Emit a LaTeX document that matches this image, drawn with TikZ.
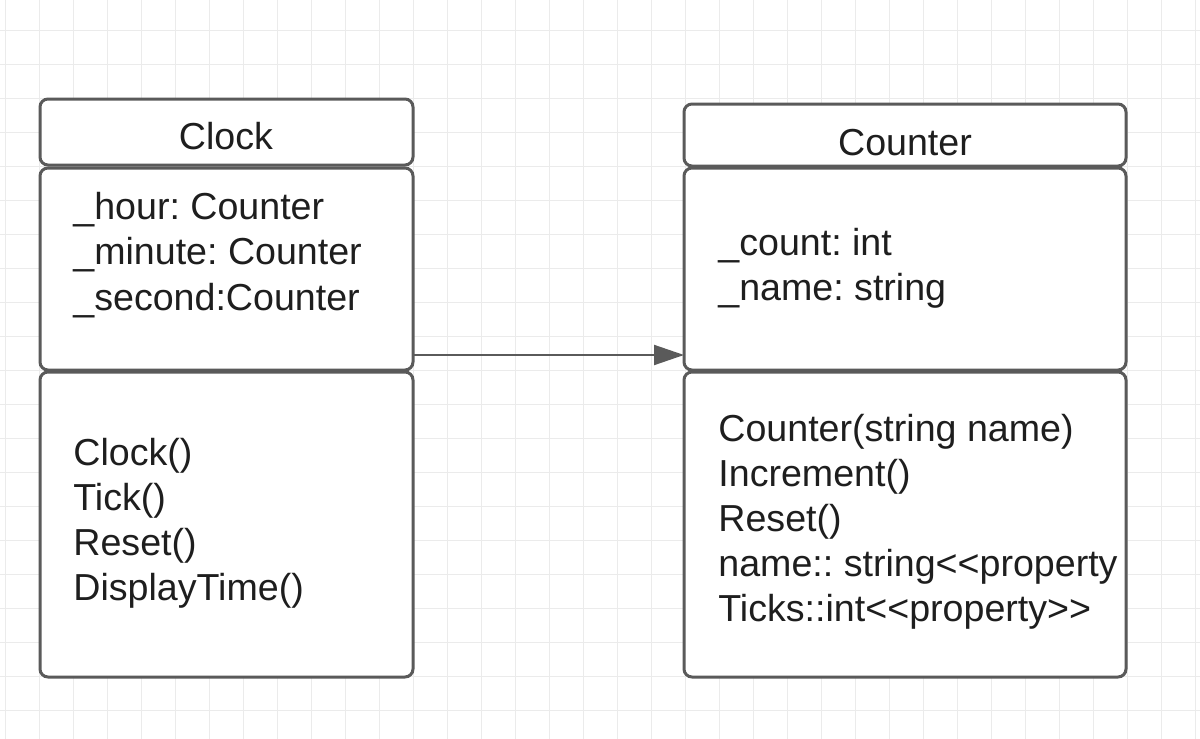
\documentclass[tikz,border=0pt]{standalone}
\usepackage{fontspec}
\setmainfont{Liberation Sans}
\usetikzlibrary{arrows.meta}

\definecolor{umlgray}{HTML}{5A5A5A}
\definecolor{gridgray}{HTML}{EBEBEB}
\definecolor{ink}{HTML}{1E1E1E}
\newcommand{\ltlt}{<\kern0pt<}
\newcommand{\gtgt}{>\kern0pt>}
\frenchspacing

\begin{document}
\begin{tikzpicture}[x=0.5pt, y=-0.5pt,
    gridline/.style={draw=gridgray, line width=0.5pt},
    compartment/.style={draw=umlgray, fill=white, line width=1.5pt, rounded corners=4pt,
        outer sep=0pt, inner sep=0pt, anchor=north west},
    title/.style={anchor=base, inner sep=0pt, text=ink, font=\fontsize{18.8}{22.75}\selectfont},
    member/.style={anchor=base west, inner sep=0pt, text=ink, font=\fontsize{18.8}{22.75}\selectfont},
    assoc/.style={draw=umlgray, line width=1pt, -{Triangle[length=15pt, width=10pt]}}]

    \useasboundingbox[fill=white] (0,0) rectangle (1200,739);

    % Background grid
    \foreach \gx in {5,39,...,1200}
        \draw[gridline] (\gx,0) -- (\gx,739);
    \foreach \gy in {30,64,...,739}
        \draw[gridline] (0,\gy) -- (1200,\gy);

    % Clock class
    \node[compartment, minimum width=186.5pt, minimum height=33pt] (clockhead) at (40,99) {};
    \node[compartment, minimum width=186.5pt, minimum height=101pt] (clockfields) at (40,168) {};
    \node[compartment, minimum width=186.5pt, minimum height=152.5pt] (clockops) at (40,372) {};
    \node[title] (clocktitle) at (226,149) {Clock};
    \foreach \txt [count=\i] in {\_hour: Counter, \_minute: Counter, \_second:Counter}
        \node[member] (clockfield-\i) at (73,{219+45.5*(\i-1)}) {\txt};
    \foreach \txt [count=\i] in {Clock(), Tick(), Reset(), DisplayTime()}
        \node[member] (clockop-\i) at (73,{465+45*(\i-1)}) {\txt};

    % Counter class
    \node[compartment, minimum width=221pt, minimum height=31pt] (counterhead) at (684,104) {};
    \node[compartment, minimum width=221pt, minimum height=101pt] (counterfields) at (684,168) {};
    \node[compartment, minimum width=221pt, minimum height=152.5pt] (counterops) at (684,372) {};
    \node[title] (countertitle) at (905,155) {Counter};
    \foreach \txt [count=\i] in {\_count: int, \_name: string}
        \node[member] (counterfield-\i) at (718,{255+45*(\i-1)}) {\txt};
    \foreach \txt [count=\i] in {Counter(string name), Increment(), Reset(),
            name:: string\ltlt property, Ticks::int\ltlt property\gtgt}
        \node[member] (counterop-\i) at (718,{441+45*(\i-1)}) {\txt};

    % Association
    \coordinate (linky) at (0,355);
    \draw[assoc] (clockfields.east |- linky) -- (counterfields.west |- linky);
\end{tikzpicture}
\end{document}
